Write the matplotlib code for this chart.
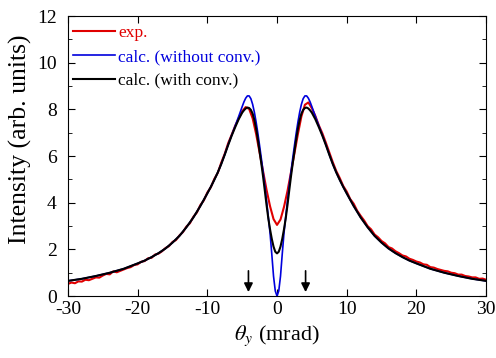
import numpy as np
import matplotlib.pyplot as plt

plt.rcParams['font.family'] = ['Liberation Serif', 'DejaVu Serif']
plt.rcParams['mathtext.fontset'] = 'stix'
plt.rcParams['axes.unicode_minus'] = False

# calc. curves, symmetric about 0 (values for theta >= 0)
x_half = [0, 0.25, 0.5, 0.75, 1, 1.25, 1.5, 1.75, 2, 2.25, 2.5, 2.75, 3, 3.25, 3.5,
          3.75, 4, 4.25, 4.5, 4.75, 5, 5.5, 6, 6.5, 7, 7.5, 8, 8.5, 9, 9.5, 10,
          11, 12, 13, 14, 15, 16, 17, 18, 19, 20, 22, 24, 26, 28, 30]
with_conv = [1.83, 1.90, 2.12, 2.45, 2.86, 3.33, 3.90, 4.52, 5.12, 5.68, 6.20, 6.72,
             7.18, 7.55, 7.82, 7.98, 8.06, 8.08, 8.04, 7.96, 7.86, 7.58, 7.24, 6.88,
             6.48, 6.06, 5.66, 5.30, 4.98, 4.68, 4.40, 3.86, 3.37, 2.95, 2.58, 2.29,
             2.04, 1.84, 1.67, 1.52, 1.40, 1.17, 1.00, 0.86, 0.74, 0.65]
without_conv = [0.00, 0.22, 0.85, 1.80, 2.70, 3.40, 4.08, 4.72, 5.32, 5.90, 6.45, 6.98,
                7.46, 7.88, 8.22, 8.46, 8.58, 8.58, 8.48, 8.32, 8.12, 7.70, 7.30, 6.90,
                6.50, 6.07, 5.66, 5.30, 4.98, 4.68, 4.40, 3.86, 3.37, 2.95, 2.58, 2.29,
                2.04, 1.84, 1.67, 1.52, 1.40, 1.17, 1.00, 0.86, 0.74, 0.65]

# experiment, -30 .. 30 mrad in 0.5 steps
x_exp = np.arange(-30, 30.01, 0.5)
exp = [0.52, 0.58, 0.55, 0.63, 0.62, 0.70, 0.68, 0.74, 0.80, 0.79,
       0.88, 0.95, 0.93, 1.06, 1.02, 1.08, 1.14, 1.20, 1.24, 1.33,
       1.36, 1.47, 1.50, 1.62, 1.64, 1.78, 1.82, 1.92, 2.06, 2.14,
       2.32, 2.40, 2.60, 2.74, 2.98, 3.12, 3.40, 3.58, 3.90, 4.10,
       4.44, 4.66, 5.02, 5.28, 5.72, 6.10, 6.56, 6.92, 7.30, 7.62,
       7.92, 8.10, 8.02, 7.62, 6.95, 6.15, 5.35, 4.55, 3.85, 3.30,
       3.05,
       3.28, 3.82, 4.50, 5.30, 6.12, 6.95, 7.70, 8.20, 8.30, 8.05,
       7.72, 7.32, 6.98, 6.58, 6.16, 5.74, 5.36, 5.06, 4.72, 4.48,
       4.16, 3.96, 3.66, 3.44, 3.24, 3.00, 2.86, 2.64, 2.52, 2.36,
       2.26, 2.10, 2.04, 1.92, 1.84, 1.74, 1.70, 1.60, 1.55, 1.48,
       1.44, 1.36, 1.34, 1.24, 1.22, 1.16, 1.12, 1.08, 1.06, 1.00,
       0.98, 0.92, 0.92, 0.86, 0.84, 0.80, 0.80, 0.74, 0.75, 0.70]

arrow_pos = [-4.1, 4.1]

x_half = np.array(x_half)
x_calc = np.concatenate([-x_half[::-1], x_half[1:]])
y_with = np.concatenate([np.array(with_conv)[::-1], with_conv[1:]])
y_without = np.concatenate([np.array(without_conv)[::-1], without_conv[1:]])

fig = plt.figure(figsize=(4.96, 3.58), dpi=100)
ax = fig.add_axes([0.137, 0.173, 0.843, 0.782])

ax.plot(x_exp, exp, color='#e00000', lw=1.5, label='exp.')
ax.plot(x_calc, y_without, color='#0000dd', lw=1.2, label='calc. (without conv.)')
ax.plot(x_calc, y_with, color='black', lw=1.5, label='calc. (with conv.)')

for xa in arrow_pos:
    ax.annotate('', xy=(xa, 0.05), xytext=(xa, 1.2),
                arrowprops=dict(arrowstyle='-|>', color='black', lw=1.2, mutation_scale=13))

ax.set_xlim(-30, 30)
ax.set_ylim(0, 12)
ax.set_xticks(np.arange(-30, 31, 10))
ax.set_yticks(np.arange(0, 13, 2))
ax.set_yticks(np.arange(0, 13, 1), minor=True)
ax.tick_params(which='both', direction='in', top=True, right=True, labelsize=14)
ax.tick_params(which='major', length=5)
ax.tick_params(which='minor', length=3)
ax.tick_params(axis='y', pad=8)

ax.set_xlabel(r'$\theta_y$ (mrad)', fontsize=16)
ax.set_ylabel('Intensity (arb. units)', fontsize=18.5)
ax.yaxis.set_label_coords(-0.085, 0.56)

leg = ax.legend(loc='upper left', bbox_to_anchor=(-0.008, 1.0), frameon=False,
                fontsize=12.5, handlelength=2.4, labelspacing=0.45, borderaxespad=0.2,
                borderpad=0.3, handletextpad=0.2)
for txt, ln in zip(leg.get_texts(), leg.get_lines()):
    txt.set_color(ln.get_color())

plt.savefig('out.png', dpi=100)
